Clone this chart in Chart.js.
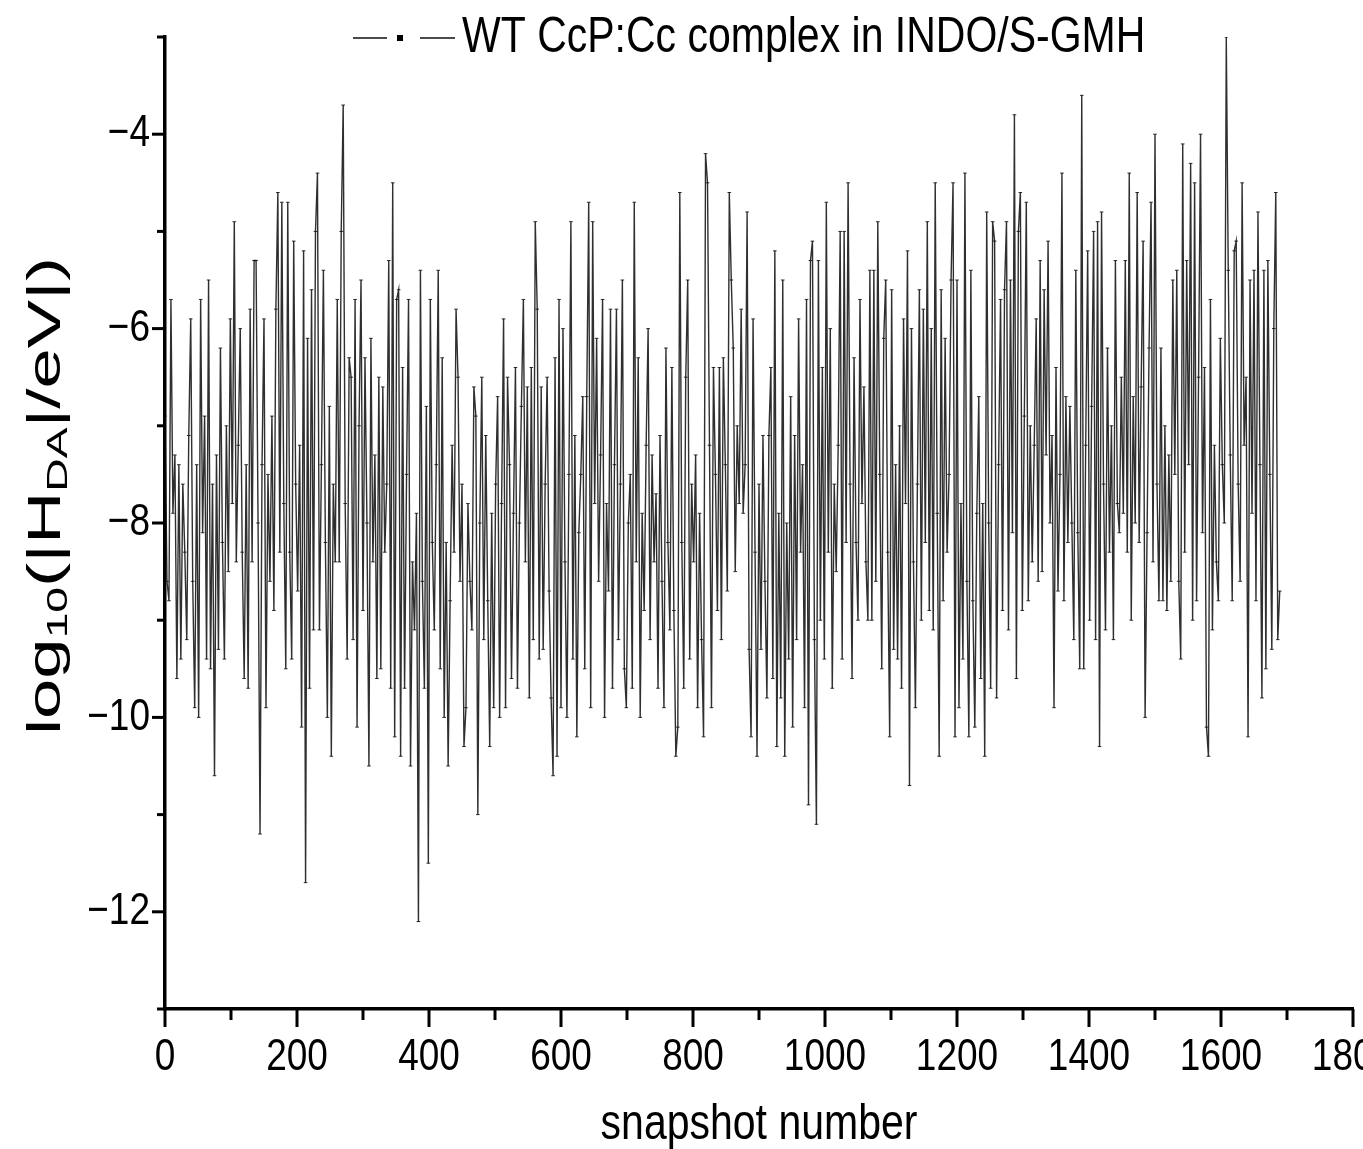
<!DOCTYPE html>
<html>
<head>
<meta charset="utf-8">
<script src="https://cdn.jsdelivr.net/npm/chart.js@4.4.1/dist/chart.umd.min.js"></script>
<style>
  html, body { margin: 0; padding: 0; background: #fff; }
  #chart { display: block; }
</style>
</head>
<body>
<canvas id="chart" width="1363" height="1149"></canvas>
<script>
// snapshot spacing between values
const step = 3;

// log10(|HDA|/eV), every 3 snapshots
const logHDA = [
  -6.9,-8.6,-8.8,-5.7,-7.9,-7.3,-9.6,-7.4,-9.4,-7.6,
  -8.3,-9.2,-7.1,-5.9,-8.6,-9.9,-7.4,-10.0,-5.7,-8.1,
  -6.9,-9.4,-5.5,-9.5,-7.6,-10.6,-7.3,-9.3,-6.2,-8.2,
  -9.4,-7.0,-8.5,-5.9,-7.8,-4.9,-8.4,-7.2,-6.0,-8.3,
  -9.6,-7.4,-9.7,-5.8,-8.4,-5.3,-5.3,-8.0,-11.2,-7.4,
  -5.9,-9.9,-7.5,-8.6,-6.9,-8.9,-5.8,-4.6,-8.3,-4.7,
  -7.8,-9.5,-4.7,-8.3,-9.4,-5.1,-7.6,-8.7,-7.2,-10.1,
  -5.2,-11.7,-6.1,-9.7,-5.6,-9.1,-5.0,-4.4,-9.1,-7.4,
  -5.4,-8.2,-10.0,-6.8,-10.4,-7.6,-8.4,-5.7,-8.4,-5.0,
  -3.7,-7.8,-9.4,-6.3,-6.5,-9.2,-5.7,-10.1,-7.0,-5.5,
  -8.9,-6.3,-8.0,-10.5,-6.1,-8.4,-7.3,-9.6,-6.5,-9.5,
  -6.6,-8.3,-7.6,-5.3,-9.7,-4.5,-10.2,-5.7,-5.6,-10.4,
  -6.4,-9.7,-7.5,-5.7,-10.5,-8.4,-9.1,-7.9,-12.1,-5.4,
  -8.6,-9.7,-6.8,-11.5,-5.7,-8.2,-9.1,-7.4,-5.4,-9.5,
  -6.3,-10.0,-8.2,-10.5,-8.8,-7.2,-8.3,-5.8,-6.5,-8.6,
  -7.6,-10.3,-9.9,-7.8,-8.6,-9.1,-6.6,-6.9,-11.0,-8.0,
  -6.5,-9.2,-7.1,-8.8,-10.3,-7.9,-9.9,-7.6,-6.7,-10.0,
  -7.8,-5.9,-9.9,-6.5,-7.4,-9.6,-7.9,-6.4,-9.7,-8.0,
  -6.8,-5.7,-8.4,-6.6,-9.8,-6.4,-9.2,-4.9,-5.8,-9.4,
  -6.6,-9.3,-7.6,-6.5,-8.7,-9.8,-10.6,-6.3,-10.4,-5.7,
  -9.9,-6.0,-8.4,-10.0,-7.5,-4.9,-9.4,-7.1,-10.2,-8.1,
  -7.5,-6.7,-9.5,-6.7,-4.7,-9.9,-4.9,-7.8,-6.1,-8.6,
  -7.3,-5.7,-10.0,-7.8,-8.7,-5.8,-9.7,-7.4,-5.8,-9.2,
  -7.6,-5.5,-9.5,-9.9,-8.0,-7.5,-9.7,-4.7,-8.4,-6.3,
  -10.0,-7.9,-8.9,-7.2,-6.0,-9.2,-7.3,-8.4,-7.7,-9.7,
  -7.1,-8.6,-9.9,-6.2,-8.2,-9.1,-6.4,-8.9,-10.4,-10.1,
  -4.6,-8.2,-9.7,-6.5,-5.5,-9.4,-7.6,-8.4,-7.3,-9.9,
  -7.9,-9.2,-10.2,-4.2,-4.5,-7.2,-9.9,-6.4,-7.5,-8.9,
  -6.4,-9.2,-6.3,-7.4,-8.7,-4.6,-5.5,-6.2,-8.5,-7.0,
  -7.8,-5.8,-7.9,-7.4,-4.8,-9.3,-10.2,-5.9,-8.3,-10.4,
  -7.6,-9.3,-7.1,-8.6,-9.8,-7.1,-6.4,-9.6,-5.2,-10.3,
  -7.9,-9.8,-5.5,-10.4,-8.0,-9.4,-6.7,-10.1,-7.1,-9.2,
  -5.9,-8.3,-7.4,-9.9,-5.7,-10.9,-5.3,-5.1,-9.2,-11.1,
  -5.3,-9.0,-6.4,-9.4,-4.7,-8.3,-6.0,-9.7,-7.6,-8.5,
  -7.2,-5.0,-9.4,-5.0,-8.2,-4.5,-7.6,-9.6,-6.3,-8.2,
  -9.0,-5.7,-7.8,-6.6,-8.4,-9.0,-5.4,-9.0,-5.4,-8.6,
  -4.9,-7.5,-9.5,-6.1,-5.5,-8.3,-10.2,-5.6,-9.3,-7.4,
  -9.4,-7.0,-9.7,-5.9,-7.8,-5.2,-10.7,-6.0,-8.4,-9.9,
  -7.6,-5.6,-9.0,-5.8,-8.2,-4.9,-8.9,-6.0,-9.1,-4.5,
  -7.9,-10.4,-5.6,-8.8,-6.1,-8.3,-7.5,-5.5,-4.5,-10.2,
  -5.5,-9.9,-7.8,-9.4,-4.4,-8.6,-10.2,-5.4,-8.8,-10.1,
  -7.9,-6.7,-9.6,-7.8,-10.4,-4.8,-8.0,-9.7,-4.9,-5.1,
  -9.8,-7.4,-5.7,-8.9,-5.6,-4.9,-9.1,-5.5,-8.1,-3.8,
  -9.6,-5.0,-4.6,-8.9,-6.9,-4.7,-8.8,-7.0,-8.4,-7.2,
  -5.9,-8.6,-5.3,-8.5,-5.6,-7.3,-5.1,-8.0,-7.1,-9.9,
  -6.4,-8.7,-7.5,-4.4,-8.8,-6.7,-8.2,-6.8,-8.0,-9.2,
  -5.4,-8.1,-9.5,-3.6,-9.5,-7.2,-5.2,-9.0,-6.8,-5.0,
  -9.2,-4.9,-10.3,-4.8,-7.6,-9.1,-6.2,-8.3,-7.0,-9.2,
  -5.3,-7.8,-8.1,-6.5,-7.9,-5.3,-8.3,-4.4,-9.0,-6.7,
  -8.0,-4.6,-8.2,-6.6,-5.1,-10.0,-8.1,-6.2,-4.7,-8.4,
  -4.0,-7.6,-8.8,-6.2,-8.8,-7.0,-8.9,-7.3,-8.6,-5.5,
  -7.5,-5.4,-8.6,-9.4,-4.1,-8.3,-5.3,-7.4,-4.3,-9.0,
  -4.5,-8.8,-6.5,-4.0,-8.1,-6.4,-10.1,-10.4,-5.7,-9.1,
  -7.2,-8.4,-8.8,-6.1,-7.4,-8.0,-3.0,-5.4,-7.3,-8.8,
  -5.2,-5.1,-7.6,-8.6,-4.5,-7.2,-6.5,-10.2,-5.5,-7.9,
  -5.4,-8.8,-4.8,-7.4,-9.8,-5.4,-9.5,-5.3,-7.5,-9.3,
  -6.0,-4.6,-9.2,-8.7
];
const snapshots = logHDA.map((_, i) => i * step);

const xTicks = [0, 200, 400, 600, 800, 1000, 1200, 1400, 1600, 1800];
const yTicks = [-4, -6, -8, -10, -12];
const legendLabel = "WT CcP:Cc complex in INDO/S-GMH";
const xTitle = "snapshot number";

const FONT = "'Liberation Sans', Arial, sans-serif";
const ink = "rgba(10,10,10,0.85)";
const STRETCH = 1.2; // the original lettering is taller than it is wide

// text drawn with a vertical stretch, centred on (x, y)
function tallText(ctx, text, x, y, size, align) {
  ctx.save();
  ctx.font = size + "px " + FONT;
  ctx.textAlign = align;
  ctx.textBaseline = "middle";
  ctx.translate(x, y);
  ctx.scale(1, STRETCH);
  ctx.fillText(text, 0, 0);
  ctx.restore();
}

// draws outward ticks, tick labels, axis titles and the legend
const decor = {
  id: "decor",
  afterDraw(chart) {
    const { ctx, chartArea: a, scales } = chart;
    const xs = scales.x, ys = scales.y;
    ctx.save();
    ctx.strokeStyle = "#000";
    ctx.lineWidth = 3;
    ctx.lineCap = "butt";
    for (let v = -13; v <= -3; v++) {
      const p = ys.getPixelForValue(v);
      const len = v % 2 === 0 ? 13 : 8;
      ctx.beginPath();
      ctx.moveTo(a.left - len, p);
      ctx.lineTo(a.left, p);
      ctx.stroke();
    }
    for (let v = 0; v <= 1800; v += 100) {
      const p = xs.getPixelForValue(v);
      const len = v % 200 === 0 ? 18 : 11;
      ctx.beginPath();
      ctx.moveTo(p, a.bottom);
      ctx.lineTo(p, a.bottom + len);
      ctx.stroke();
    }
    ctx.fillStyle = "#000";
    xTicks.forEach(v => tallText(ctx, String(v), xs.getPixelForValue(v), 1058, 37, "center"));
    yTicks.forEach(v => tallText(ctx, "\u2212" + Math.abs(v), 150, ys.getPixelForValue(v), 37, "right"));

    // x title
    tallText(ctx, xTitle, (a.left + a.right) / 2, 1125, 41, "center");

    // y title with subscripts, stretched along its length
    const parts = [["log", 0], ["10", 1], ["(|H", 0], ["DA", 1], ["|/eV|)", 0]];
    const big = "47px " + FONT, small = "30px " + FONT;
    let total = 0;
    parts.forEach(([t, s]) => { ctx.font = s ? small : big; total += ctx.measureText(t).width; });
    ctx.translate(44, 496);
    ctx.rotate(-Math.PI / 2);
    ctx.scale(478 / total, 1);
    ctx.textAlign = "left";
    ctx.textBaseline = "alphabetic";
    let x = -total / 2;
    parts.forEach(([t, s]) => {
      ctx.font = s ? small : big;
      ctx.fillText(t, x, s ? 23 : 16);
      x += ctx.measureText(t).width;
    });
    ctx.restore();

    // legend
    ctx.save();
    ctx.strokeStyle = "#111";
    ctx.lineWidth = 1.4;
    ctx.beginPath();
    ctx.moveTo(353, 38); ctx.lineTo(387, 38);
    ctx.moveTo(420, 38); ctx.lineTo(455, 38);
    ctx.stroke();
    ctx.fillStyle = "#000";
    ctx.fillRect(397, 35, 6, 6);
    tallText(ctx, legendLabel, 462, 38, 41, "left");
    ctx.restore();
  }
};

new Chart(document.getElementById("chart").getContext("2d"), {
  type: "line",
  data: {
    datasets: [{
      label: legendLabel,
      data: snapshots.map((s, i) => ({ x: s, y: logHDA[i] })),
      borderColor: ink,
      borderWidth: 1.4,
      pointStyle: "line",
      pointRadius: 1.8,
      pointBorderWidth: 1,
      pointBorderColor: ink,
      tension: 0,
      fill: false
    }]
  },
  options: {
    responsive: false,
    animation: false,
    layout: { padding: { top: 37, right: 10, left: 0, bottom: 0 } },
    plugins: { legend: { display: false }, tooltip: { enabled: false } },
    scales: {
      x: {
        type: "linear",
        min: 0,
        max: 1800,
        afterBuildTicks: (s) => { s.ticks = xTicks.map(v => ({ value: v })); },
        afterFit: (s) => { s.height = 140; s.paddingLeft = 0; s.paddingRight = 0; },
        grid: { display: true, drawOnChartArea: false, drawTicks: false },
        border: { display: true, color: "#000", width: 3.5 },
        ticks: { display: false }
      },
      y: {
        min: -13,
        max: -3,
        afterBuildTicks: (s) => { s.ticks = yTicks.map(v => ({ value: v })); },
        afterFit: (s) => { s.width = 165; s.paddingTop = 0; s.paddingBottom = 0; },
        grid: { display: true, drawOnChartArea: false, drawTicks: false },
        border: { display: true, color: "#000", width: 3.5 },
        ticks: { display: false }
      }
    }
  },
  plugins: [decor]
});
</script>
</body>
</html>
